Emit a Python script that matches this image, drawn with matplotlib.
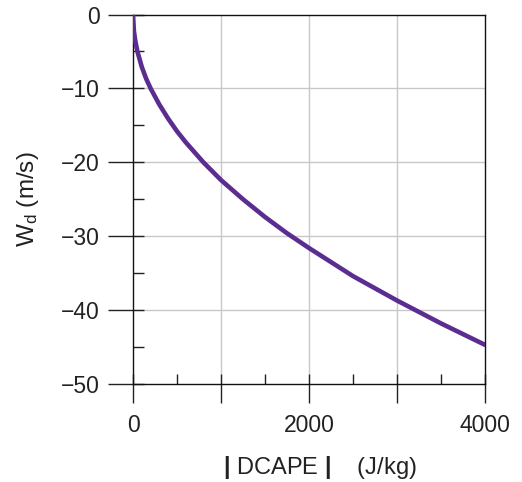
import numpy as np
import matplotlib.pyplot as plt
from matplotlib.ticker import MultipleLocator, FixedLocator

plt.rcParams['font.family'] = ['Liberation Sans', 'DejaVu Sans']
plt.rcParams['mathtext.fontset'] = 'custom'
plt.rcParams['mathtext.rm'] = 'Liberation Sans'
plt.rcParams['mathtext.it'] = 'Liberation Sans'
plt.rcParams['mathtext.bf'] = 'Liberation Sans:bold'

# values
dcape = [0, 10, 25, 50, 100, 150, 200, 300, 400, 500, 600, 800, 1000,
         1250, 1500, 1750, 2000, 2500, 3000, 3500, 4000]
wd = [0, -2.2, -3.5, -5.0, -7.1, -8.7, -10.0, -12.2, -14.1, -15.8, -17.3,
      -20.0, -22.4, -25.0, -27.4, -29.6, -31.6, -35.4, -38.7, -41.8, -44.7]

x_major = [0, 1000, 2000, 3000, 4000]
x_labels = ['0', '', '2000', '', '4000']
y_major = [0, -10, -20, -30, -40, -50]
y_labels = ['0', '\u221210', '\u221220', '\u221230', '\u221240', '\u221250']

fig = plt.figure(figsize=(5.22, 4.82), dpi=100)
ax = fig.add_axes([0.2548, 0.2033, 0.6743, 0.7666])

ax.plot(dcape, wd, color='#5c2d91', lw=3.3, solid_capstyle='round', zorder=3)

ax.set_xlim(0, 4000)
ax.set_ylim(-50, 0)

ax.xaxis.set_major_locator(FixedLocator(x_major))
ax.set_xticklabels(x_labels)
ax.xaxis.set_minor_locator(MultipleLocator(500))
ax.xaxis.remove_overlapping_locs = False
ax.yaxis.set_major_locator(FixedLocator(y_major))
ax.set_yticklabels(y_labels)
ax.yaxis.set_minor_locator(MultipleLocator(5))
ax.yaxis.remove_overlapping_locs = False

ax.tick_params(axis='x', which='major', direction='out', length=13.7, width=1.0, pad=8, labelsize=16.5, colors='#222222')
ax.tick_params(axis='x', which='minor', direction='in', length=7, width=1.0, colors='#222222')
ax.tick_params(axis='y', which='major', direction='out', length=18, width=1.0, pad=6, labelsize=16.5, colors='#222222')
ax.tick_params(axis='y', which='minor', direction='in', length=8, width=1.0, colors='#222222')

for s in ax.spines.values():
    s.set_linewidth(1.0)
    s.set_color('#111111')

for xv in [1000, 2000, 3000]:
    ax.axvline(xv, color='#c8c8c8', lw=1.0, zorder=1)
for yv in [-10, -20, -30, -40]:
    ax.axhline(yv, color='#c8c8c8', lw=1.0, zorder=1)

ax.set_xlabel(r'$\mathbf{|}$ DCAPE $\mathbf{|}$    (J/kg)', fontsize=17, color='#222222')
ax.xaxis.set_label_coords(0.531, -0.19)
ax.set_ylabel(r'W$_\mathrm{d}$ (m/s)', fontsize=17.5, color='#222222')
ax.yaxis.set_label_coords(-0.262, 0.5)

fig.savefig('out.png', dpi=100)
